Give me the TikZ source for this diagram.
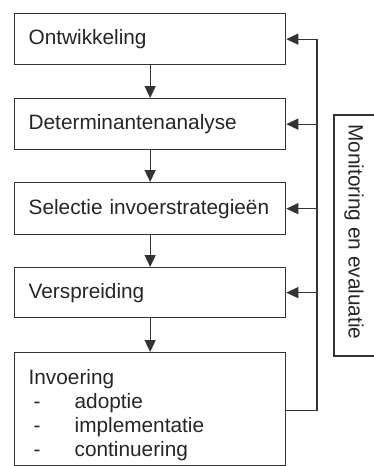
\documentclass[tikz,border=0pt]{standalone}
\usepackage{fontspec}
\setmainfont{Liberation Sans}
\usetikzlibrary{arrows.meta}
\begin{document}
\begin{tikzpicture}[x=1pt,y=-1pt,
  stepbox/.style={draw=black!80, line width=1.3pt, minimum width=271pt, minimum height=51pt,
    text width=243pt, inner xsep=14pt, inner ysep=0pt, align=left, anchor=north west,
    font=\fontsize{20.8}{24}\selectfont, text=black!85},
  conn/.style={draw=black!80, line width=1.3pt},
  arr/.style={conn, -{Triangle[length=12pt,width=11pt]}}]
\useasboundingbox (0,0) rectangle (374,466);
\node[stepbox] (b1) at (14,13) {Ontwikkeling};
\node[stepbox] (b2) at (14,98) {Determinantenanalyse};
\node[stepbox, minimum height=52pt] (b3) at (14,182) {\mbox{Selectie invoerstrategie\"en}};
\node[stepbox, minimum height=50pt] (b4) at (14,267) {Verspreiding};
\node[stepbox, minimum height=113pt] (b5) at (14,352) {\rule{0pt}{27pt}Invoering\\
  \hspace*{5pt}\makebox[41pt][l]{-}adoptie\\
  \hspace*{5pt}\makebox[41pt][l]{-}implementatie\\
  \hspace*{5pt}\makebox[41pt][l]{-}continuering};
\draw[arr] (b1) -- (b2);
\draw[arr] (b2) -- (b3);
\draw[arr] (b3) -- (b4);
\draw[arr] (b4) -- (b5);
\coordinate (rail) at (317,0);
\draw[conn] ([yshift=-1.5pt]b5.east) -| (rail |- b1.east);
\draw[arr] (rail |- b1.east) -- (b1.east);
\draw[arr] (rail |- b2.east) -- (b2.east);
\draw[arr] (rail |- b3.east) -- (b3.east);
\draw[arr] (rail |- b4.east) -- (b4.east);
\coordinate (mtl) at (334,115);
\coordinate (mbl) at (334,356);
\draw[conn] (380,115) -- (mtl) -- (mbl) -- (380,356);
\node[rotate=-90, font=\fontsize{20.8}{24}\selectfont, text=black!85] (mon) at (354,232) {Monitoring en evaluatie};
\end{tikzpicture}
\end{document}
